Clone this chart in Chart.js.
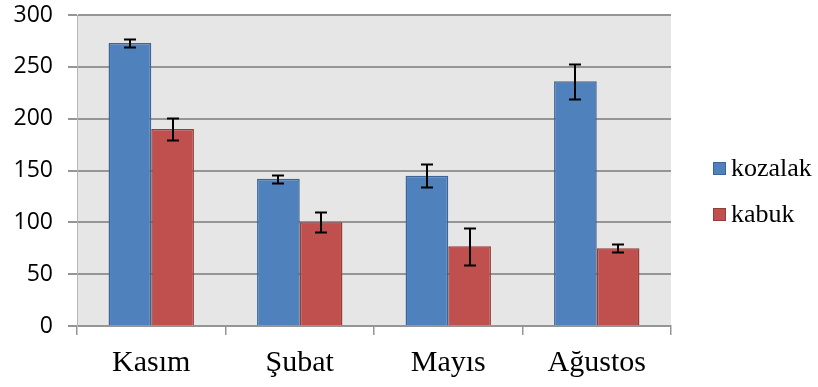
<!DOCTYPE html>
<html>
<head>
<meta charset="utf-8">
<script src="https://cdn.jsdelivr.net/npm/chart.js@4/dist/chart.umd.min.js"></script>
<style>
  html, body { margin: 0; padding: 0; background: #fff; }
  #wrap { position: relative; width: 818px; height: 387px; }
</style>
</head>
<body>
<div id="wrap"><canvas id="chart" width="818" height="387"></canvas></div>
<script>
/* data */
const months      = ['Kasım', 'Şubat', 'Mayıs', 'Ağustos'];
const kozalak     = [273, 142, 145, 236];
const kozalakErr  = [4, 4, 11, 17];
const kabuk       = [190, 100, 77, 75];
const kabukErr    = [11, 9.5, 18, 4];
const yTicks      = [0, 50, 100, 150, 200, 250, 300];

const GRID = '#959595';

// error bars drawn through the y scale
const errorBars = {
    id: 'errorBars',
    afterDatasetsDraw(chart) {
        const ctx = chart.ctx, y = chart.scales.y;
        ctx.save();
        ctx.strokeStyle = '#000';
        ctx.lineWidth = 2;
        chart.data.datasets.forEach((ds, di) => {
            const meta = chart.getDatasetMeta(di);
            meta.data.forEach((bar, i) => {
                const v = ds.data[i], e = ds.err[i];
                const yt = Math.round(y.getPixelForValue(v + e)) + 0.5;
                const yb = Math.round(y.getPixelForValue(v - e)) + 0.5;
                const x = Math.round(bar.x);
                ctx.beginPath();
                ctx.moveTo(x, yt); ctx.lineTo(x, yb);
                ctx.moveTo(x - 6, yt); ctx.lineTo(x + 6, yt);
                ctx.moveTo(x - 6, yb); ctx.lineTo(x + 6, yb);
                ctx.stroke();
            });
        });
        ctx.restore();
    }
};

// grey plot background
const plotBg = {
    id: 'plotBg',
    beforeDraw(chart) {
        const { ctx, chartArea: a } = chart;
        ctx.save();
        ctx.fillStyle = '#e6e6e6';
        ctx.fillRect(a.left, a.top, a.right - a.left, a.bottom - a.top);
        ctx.restore();
    }
};

// legend on the right, drawn by hand for exact spacing
const sideLegend = {
    id: 'sideLegend',
    afterDraw(chart) {
        const ctx = chart.ctx;
        const rows = [176, 222];
        ctx.save();
        ctx.font = '26px "Liberation Serif", "Times New Roman", serif';
        ctx.textBaseline = 'alphabetic';
        chart.data.datasets.forEach((ds, i) => {
            const yy = rows[i];
            ctx.fillStyle = ds.backgroundColor;
            ctx.fillRect(713, yy - 14, 13, 13);
            ctx.strokeStyle = ds.borderColor;
            ctx.lineWidth = 1;
            ctx.strokeRect(713.5, yy - 13.5, 12, 12);
            ctx.fillStyle = '#000';
            ctx.fillText(ds.label, 731, yy);
        });
        ctx.restore();
    }
};

new Chart(document.getElementById('chart'), {
    type: 'bar',
    data: {
        labels: months,
        datasets: [
            { label: 'kozalak', data: kozalak, err: kozalakErr,
              backgroundColor: '#4f81bd', borderColor: '#3a6596', borderWidth: 1.5 },
            { label: 'kabuk', data: kabuk, err: kabukErr,
              backgroundColor: '#c0504d', borderColor: '#963d3b', borderWidth: 1.5 }
        ]
    },
    options: {
        responsive: false, animation: false,
        layout: { padding: { top: 15, right: 147, left: 0, bottom: 0 } },
        datasets: { bar: { categoryPercentage: 0.575, barPercentage: 1 } },
        plugins: { legend: { display: false }, tooltip: { enabled: false } },
        scales: {
            x: {
                grid: { drawOnChartArea: false, offset: true, color: GRID, lineWidth: 1.5, tickLength: 9 },
                border: { color: GRID, width: 2 },
                ticks: { color: '#000', padding: 10,
                         font: { family: '"Liberation Serif", "Times New Roman", serif', size: 30 } },
                afterFit: s => { s.height = 61; s.paddingLeft = 0; s.paddingRight = 0; }
            },
            y: {
                min: 0, max: 300,
                afterBuildTicks: s => { s.ticks = yTicks.map(v => ({ value: v })); },
                grid: { color: GRID, lineWidth: 2, tickLength: 9 },
                border: { color: '#b5b5b5', width: 1 },
                ticks: { color: '#000', padding: 15,
                         font: { family: '"Open Sans", sans-serif', size: 23 } },
                afterFit: s => { s.width = 77; s.paddingTop = 0; s.paddingBottom = 0; }
            }
        }
    },
    plugins: [plotBg, errorBars, sideLegend]
});
</script>
</body>
</html>
